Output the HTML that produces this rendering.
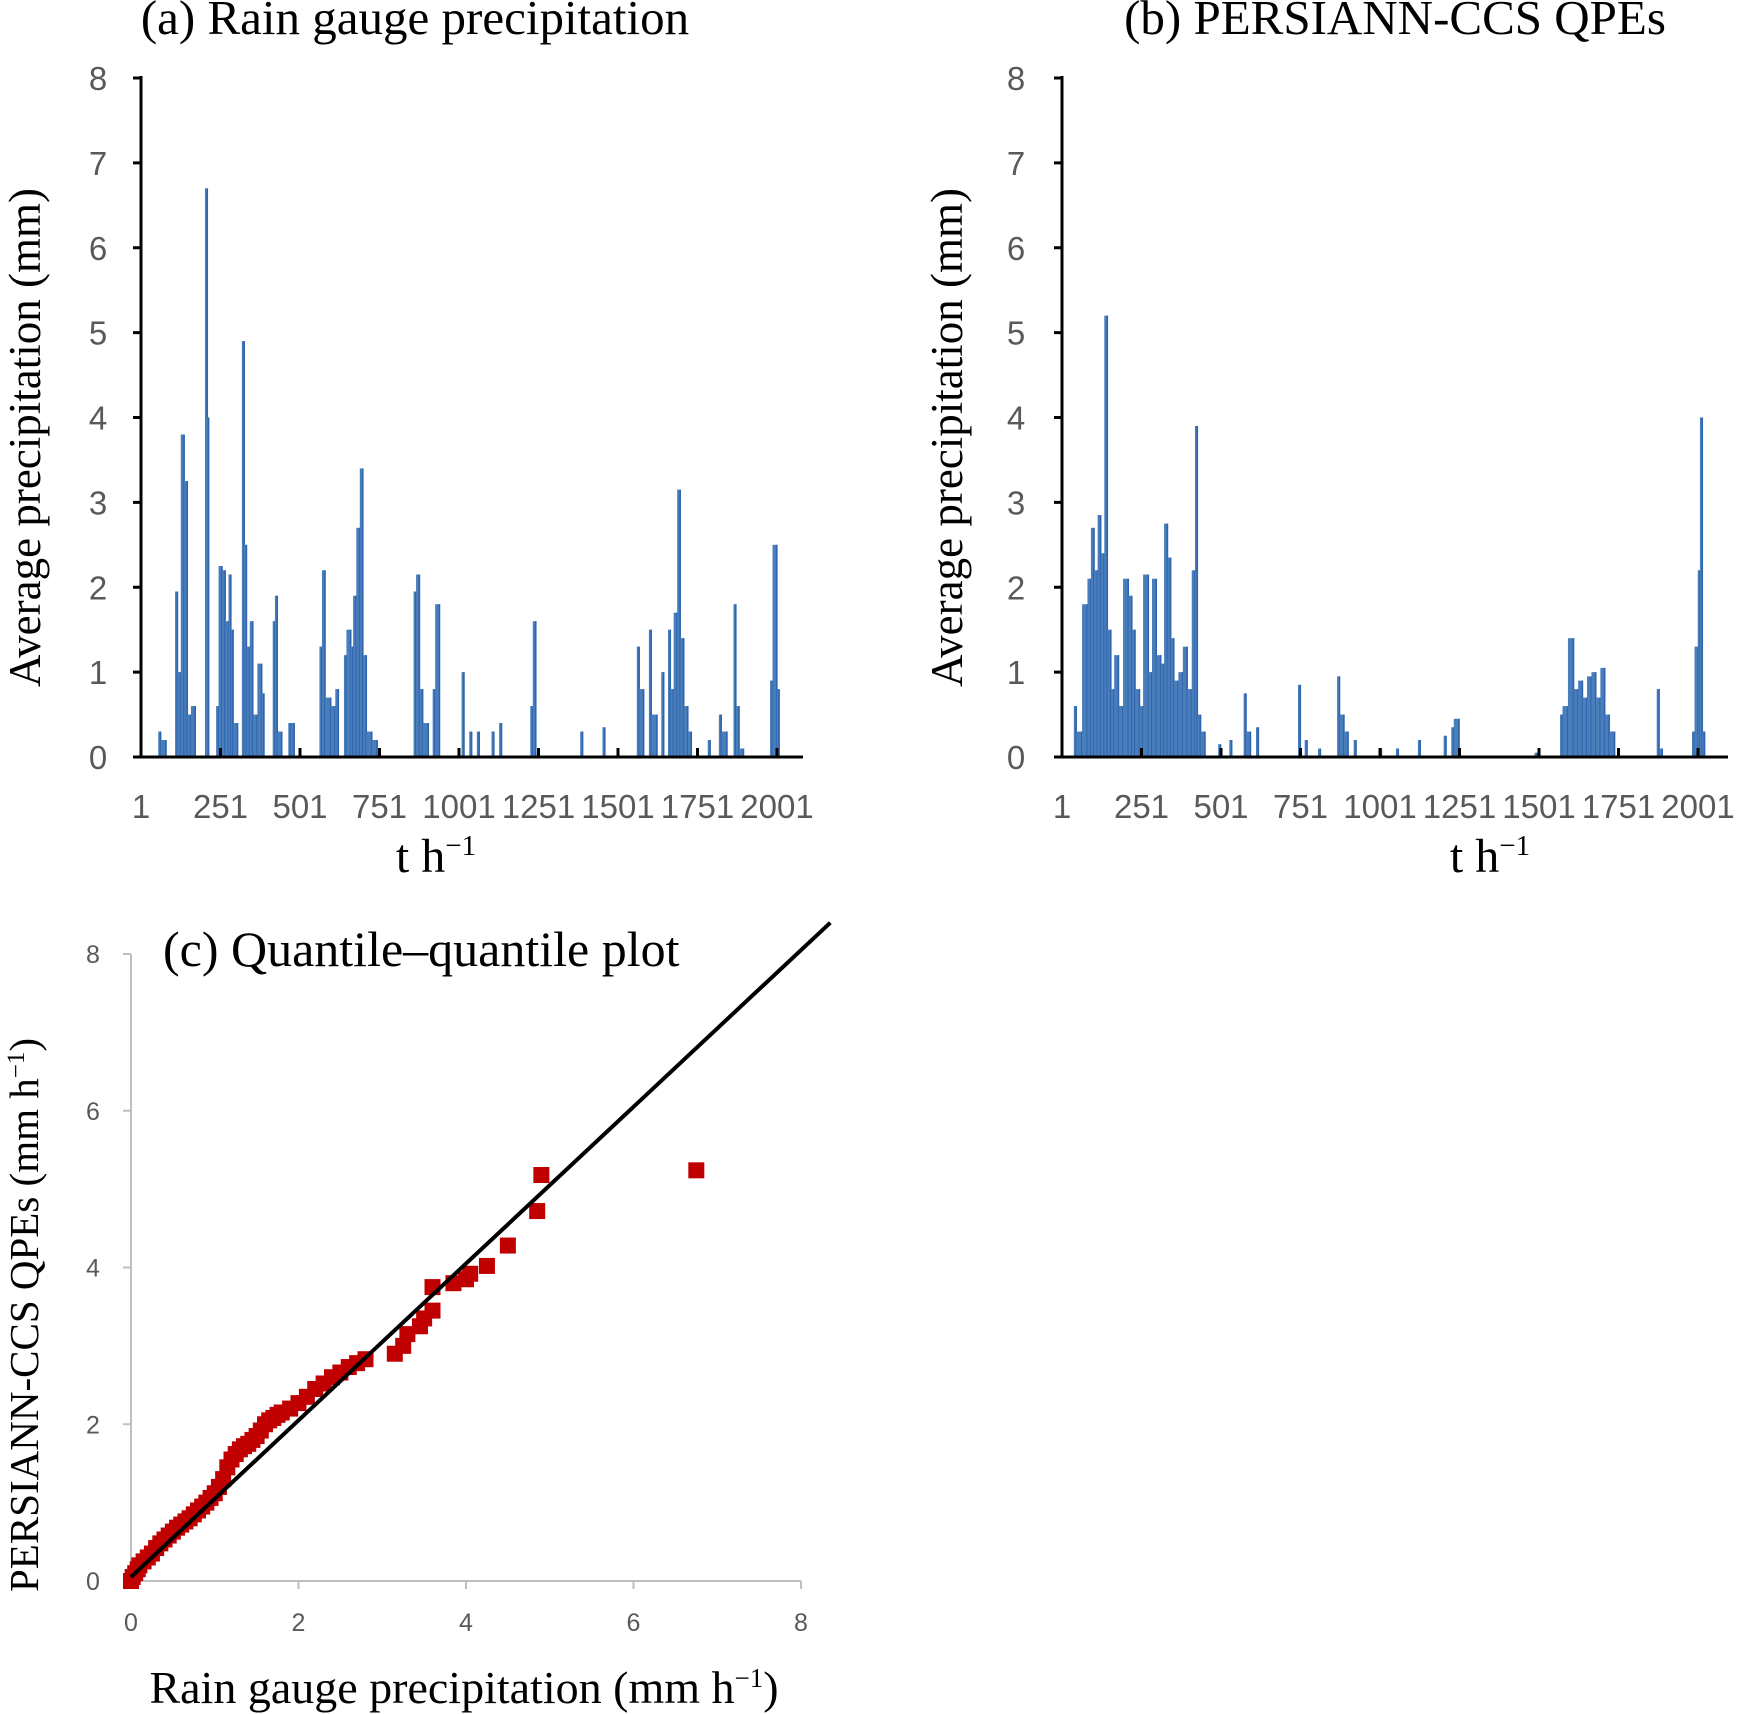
<!DOCTYPE html>
<html><head><meta charset="utf-8"><style>
html,body{margin:0;padding:0;background:#fff}
svg{display:block}
.serif{font-family:"Liberation Serif",serif;fill:#000}
.tick{font-family:"Liberation Sans",sans-serif;fill:#595959;font-size:33px}
.tick2{font-family:"Liberation Sans",sans-serif;fill:#595959;font-size:25px}
</style></head><body>
<svg id="fig" width="1740" height="1714" viewBox="0 0 1740 1714" xmlns="http://www.w3.org/2000/svg">
<g id="pa"></g>
<g id="pb"></g>
<g id="pc"></g>
</svg>
<script>
// Panel (a) rain gauge: hour index and value (mm)
const aHours=[63,80,116,126,137,147,158,172,210,214,245,256,266,277,284,291,305,326,333,343,353,367,381,388,423,430,444,472,483,570,580,598,612,622,647,661,668,678,689,699,710,727,744,866,877,887,905,926,940,1017,1041,1065,1111,1135,1233,1243,1390,1460,1568,1582,1606,1624,1645,1666,1676,1687,1697,1708,1721,1732,1791,1826,1844,1872,1882,1896,1987,2001,2008];
const aVals=[0.3,0.2,1.95,1.0,3.8,3.25,0.5,0.6,6.7,4.0,0.6,2.25,2.2,1.6,2.15,1.5,0.4,4.9,2.5,1.3,1.6,0.5,1.1,0.75,1.6,1.9,0.3,0.4,0.4,1.3,2.2,0.7,0.6,0.8,1.2,1.5,1.3,1.9,2.7,3.4,1.2,0.3,0.2,1.95,2.15,0.8,0.4,0.8,1.8,1.0,0.3,0.3,0.3,0.4,0.6,1.6,0.3,0.35,1.3,0.8,1.5,0.5,1.0,1.5,0.8,1.7,3.15,1.4,0.6,0.3,0.2,0.5,0.3,1.8,0.6,0.1,0.9,2.5,0.8];
// Panel (b) PERSIANN-CCS
const bHours=[46,64,81,92,102,113,123,134,144,155,165,179,193,210,221,231,245,256,273,284,298,312,322,333,343,353,367,381,395,409,420,427,437,451,500,535,580,594,619,751,772,814,874,888,901,926,1006,1059,1128,1209,1233,1250,1495,1575,1592,1610,1624,1638,1652,1666,1680,1694,1708,1722,1739,1879,1889,1990,2001,2008,2015,2022];
const bVals=[0.6,0.3,1.8,2.1,2.7,2.2,2.85,2.4,5.2,1.5,0.8,1.2,0.6,2.1,1.9,1.5,0.8,0.6,2.15,1.0,2.1,1.2,1.1,2.75,2.35,1.4,0.9,1.0,1.3,0.8,2.2,3.9,0.5,0.3,0.15,0.2,0.75,0.3,0.35,0.85,0.2,0.1,0.95,0.5,0.3,0.2,0.1,0.1,0.2,0.25,0.35,0.45,0.05,0.5,0.6,1.4,0.8,0.9,0.7,0.95,1.0,0.7,1.05,0.5,0.3,0.8,0.1,0.3,1.3,2.2,4.0,0.3];
const xTickLabels=["1","251","501","751","1001","1251","1501","1751","2001"];
const yTicksAB=[0,1,2,3,4,5,6,7,8];
// Panel (c) Q-Q
const qX=[0,0.02,0.05,0.08,0.1,0.15,0.2,0.25,0.3,0.35,0.4,0.45,0.5,0.55,0.6,0.65,0.7,0.75,0.8,0.85,0.9,0.95,1.0,1.05,1.1,1.15,1.2,1.25,1.3,1.35,1.4,1.45,1.5,1.55,1.6,1.65,1.7,1.75,1.8,1.9,2.0,2.1,2.2,2.3,2.4,2.5,2.6,2.7,2.8,3.15,3.25,3.3,3.45,3.5,3.6,3.6,3.85,4.0,4.05,4.25,4.5,4.85,4.9,6.75];
const qY=[0,0.05,0.1,0.15,0.2,0.25,0.3,0.35,0.42,0.48,0.53,0.58,0.63,0.68,0.72,0.76,0.8,0.85,0.9,0.95,1.0,1.06,1.12,1.2,1.3,1.45,1.55,1.62,1.68,1.72,1.75,1.8,1.85,1.92,2.0,2.05,2.08,2.12,2.15,2.2,2.27,2.35,2.45,2.52,2.6,2.66,2.73,2.78,2.83,2.9,3.0,3.15,3.25,3.35,3.45,3.75,3.8,3.85,3.92,4.02,4.28,4.72,5.18,5.24];
const cTicks=[0,2,4,6,8];

const NS="http://www.w3.org/2000/svg";
function mk(parent,tag,attrs,text){const e=document.createElementNS(NS,tag);for(const k in attrs)e.setAttribute(k,attrs[k]);if(text!==undefined)e.textContent=text;parent.appendChild(e);return e;}

function timePanel(g,ox,x0,x2001,xEnd,hours,vals,title,titleCx,ytitleX,xtitleCx){
  const y0=757,y8=78;
  const sx=h=>x0+(h-1)*(x2001-x0)/2000;
  const sy=v=>y0-v*(y0-y8)/8;
  for(let i=0;i<hours.length;i++){
    const w=i>0&&hours[i]-hours[i-1]<20?(sx(hours[i])-sx(hours[i-1])):2.5;
    const r=mk(g,'rect',{x:sx(hours[i])-Math.max(w,2.5),y:sy(vals[i]),width:Math.max(w,2.5)+0.5,height:y0-sy(vals[i]),fill:'#4a7ebb'});
    
    
    mk(g,'rect',{x:sx(hours[i])-1,y:sy(vals[i]),width:1.6,height:y0-sy(vals[i]),fill:'#2f64b0'});
  }
  const ax=mk(g,'path',{d:`M${x0} ${y8-2}V${y0}H${xEnd}`,stroke:'#000','stroke-width':3,fill:'none'});
  
  
  yTicksAB.forEach(v=>{
    mk(g,'line',{x1:x0-8,x2:x0,y1:sy(v),y2:sy(v),stroke:'#000','stroke-width':3});
    const t=mk(g,'text',{x:ox,y:sy(v)+12,class:'tick','text-anchor':'middle'},String(v));
    
    
  });
  xTickLabels.forEach((s,i)=>{
    const h=1+i*250;
    if(i>0) mk(g,'line',{x1:sx(h),x2:sx(h),y1:y0-9,y2:y0,stroke:'#000','stroke-width':3});
    const t=mk(g,'text',{x:sx(h),y:818,class:'tick','text-anchor':'middle'},s);
    
    
  });
  const tt=mk(g,'text',{x:titleCx,y:34,class:'serif','font-size':49,'text-anchor':'middle'},title);
  
  
  const yt=mk(g,'text',{x:0,y:0,class:'serif','font-size':45,'text-anchor':'middle',transform:`translate(${ytitleX},${(y0+y8)/2+20}) rotate(-90)`},'Average precipitation (mm)');
  
  
  const xt=mk(g,'text',{x:xtitleCx,y:872,class:'serif','font-size':48,'text-anchor':'middle'});
  
  
  xt.appendChild(document.createTextNode('t h'));
  mk(xt,'tspan',{dy:-17,'font-size':29},'−1');
}
timePanel(document.getElementById('pa'),98,141,777,803,aHours,aVals,'(a) Rain gauge precipitation',415,40,436);
timePanel(document.getElementById('pb'),1016,1062,1698,1728,bHours,bVals,'(b) PERSIANN-CCS QPEs',1395,962,1490);

(function(){
  const g=document.getElementById('pc');
  const x0=131,x8=801,y0=1581,y8=954;
  const sx=v=>x0+v*(x8-x0)/8, sy=v=>y0-v*(y0-y8)/8;
  const ax=mk(g,'path',{d:`M${x0} ${y8}V${y0}H${x8}`,stroke:'#bfbfbf','stroke-width':2,fill:'none'});
  
  
  cTicks.forEach(v=>{
    mk(g,'line',{x1:sx(v),x2:sx(v),y1:y0,y2:y0+8,stroke:'#bfbfbf','stroke-width':2});
    mk(g,'line',{x1:x0-8,x2:x0,y1:sy(v),y2:sy(v),stroke:'#bfbfbf','stroke-width':2});
    const a=mk(g,'text',{x:sx(v),y:1631,class:'tick2','text-anchor':'middle'},String(v));
    
    
    const b=mk(g,'text',{x:93,y:sy(v)+9,class:'tick2','text-anchor':'middle'},String(v));
    
    
  });
  for(let i=0;i<qX.length;i++){
    const r=mk(g,'rect',{x:sx(qX[i])-8,y:sy(qY[i])-8,width:16,height:16,fill:'#c00000'});
    
    
  }
  const ln=mk(g,'line',{x1:sx(0),y1:sy(0.05),x2:sx(8.35),y2:sy(8.4),stroke:'#000','stroke-width':4});
  
  
  const tt=mk(g,'text',{x:163,y:966,class:'serif','font-size':50},'(c) Quantile–quantile plot');
  
  
  const xt=mk(g,'text',{x:464,y:1703,class:'serif','font-size':46,'text-anchor':'middle'});
  
  
  xt.appendChild(document.createTextNode('Rain gauge precipitation (mm h'));
  mk(xt,'tspan',{dy:-16,'font-size':27},'−1');
  mk(xt,'tspan',{dy:16},')');
  const yt=mk(g,'text',{x:0,y:0,class:'serif','font-size':41,'text-anchor':'middle',transform:'translate(38,1315) rotate(-90)'});
  
  
  yt.appendChild(document.createTextNode('PERSIANN-CCS QPEs (mm h'));
  mk(yt,'tspan',{dy:-14,'font-size':25},'−1');
  mk(yt,'tspan',{dy:14},')');
})();
</script>
</body></html>
